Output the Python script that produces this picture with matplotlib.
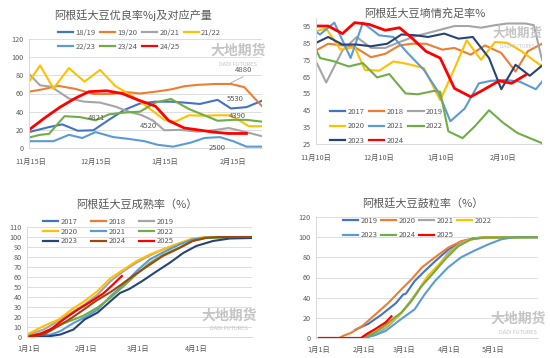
import matplotlib
matplotlib.use('Agg')
import matplotlib.pyplot as plt
from matplotlib.lines import Line2D

plt.rcParams['font.family'] = ['Noto Sans CJK SC', 'DejaVu Sans']

W, H = 550, 358
TXT = '#595959'
AXC = '#D9D9D9'

colors = {
    'blue': '#4472C4', 'orange': '#ED7D31', 'gray': '#A5A5A5', 'yellow': '#FFC000',
    'lblue': '#5B9BD5', 'green': '#70AD47', 'navy': '#264478', 'brown': '#9E480E',
    'red': '#FF0000',
}

# ---- panel 1: good/excellent rate, days after Nov 15 ----
p1_ticks = [1, 30, 61, 92]
p1_ticklabels = ['11月15日', '12月15日', '1月15日', '2月15日']
d1819 = [0, 9, 15, 22, 29, 36, 43, 50, 57, 64, 70, 77, 85, 91, 98, 105]
v1819 = [17.5, 23, 26, 19, 19.5, 31, 42, 49, 51, 51, 50, 48.5, 53, 43.5, 45, 52]
d1920 = [0, 6, 13, 21, 29, 37, 44, 50, 57, 64, 70, 76, 84, 91, 97, 105]
v1920 = [62, 64.5, 68.5, 65, 59.5, 59.5, 61.5, 60, 62, 64.5, 68, 69.5, 70.5, 70.5, 67, 46]
d2021 = [0, 5, 10, 18, 25, 32, 39, 45, 51, 56, 61, 68, 76, 83, 90, 97, 105]
v2021 = [81.5, 69, 67.5, 54.5, 51, 50, 45.5, 40, 36, 30, 19.5, 20, 18, 19.5, 22, 18, 13]
d2122 = [0, 5, 11, 18, 25, 32, 39, 46, 53, 61, 66, 72, 79, 85, 91, 99, 105]
v2122 = [73, 91, 65.5, 88, 73, 86, 68, 58, 46, 31, 29, 36, 35.5, 36, 36, 24, 24]
d2223 = [0, 6, 11, 18, 24, 30, 38, 45, 52, 58, 65, 73, 79, 86, 92, 98, 105]
v2223 = [7.5, 7.5, 7.5, 14.5, 11, 17.5, 12, 10, 7.5, 3.5, 1.5, 6, 11, 12, 7.5, 1.5, 1.5]
d2324 = [0, 5, 9, 16, 23, 30, 36, 43, 50, 57, 64, 72, 79, 85, 92, 98, 105]
v2324 = [11.5, 14.5, 15.5, 35, 34, 30.5, 37, 39, 40, 50, 54, 43, 36, 30, 31, 31, 29]
d2425 = [0, 7, 14, 21, 27, 35, 42, 49, 57, 63, 70, 76, 83, 90, 98]
v2425 = [20, 33, 45, 55, 62, 63, 60, 53, 46, 30, 22, 20, 17.5, 16, 16]
p1_notes = ['4880', '5530', '4390', '2500', '4821', '4520']
p1_note_pos = [(96.5, 86), (93, 54), (94, 35), (85, 0), (30.5, 33.5), (54, 24)]

# ---- panel 2: soil moisture adequacy, days after Nov 10 ----
p2_ticks = [0, 31, 61, 92]
p2_ticklabels = ['11月10日', '12月10日', '1月10日', '2月10日']
m2018_d = [0, 6, 13, 19, 27, 34, 41, 47, 54, 62, 68, 76, 83, 91, 98, 104, 111]
m2018_v = [80.5, 84.5, 83.5, 82.5, 76.5, 78.5, 83.5, 84.5, 84.5, 81, 82, 78, 83.5, 79, 68, 80, 84.5]
m2019_d = [0, 5, 13, 20, 27, 34, 41, 49, 57, 68, 75, 81, 88, 94, 103, 107, 111]
m2019_v = [74, 61.5, 80.5, 88.5, 82, 82, 85.5, 89, 91.5, 95, 95, 94, 95.5, 96.5, 96.5, 95.5, 75]
m2020_d = [0, 5, 12, 19, 24, 31, 38, 45, 53, 61, 67, 74, 81, 88, 94, 101, 111]
m2020_v = [92, 93.5, 81, 82.5, 69, 68.5, 74, 72.5, 70, 51, 67, 86.5, 75, 85.5, 85, 80, 71]
m2021_d = [0, 2, 9, 17, 23, 31, 38, 45, 53, 60, 66, 73, 80, 86, 93, 100, 108, 111]
m2021_v = [91.5, 90, 97, 76, 97, 89.5, 88.5, 79, 69, 56, 38.5, 46, 61, 62.5, 63, 62, 57.5, 62]
m2022_d = [0, 2, 9, 16, 23, 30, 36, 44, 50, 58, 61, 65, 72, 78, 85, 92, 99, 107, 111]
m2022_v = [81, 76, 74, 71, 73, 64.5, 66.5, 55, 54.5, 56.5, 56, 32.5, 28.5, 35.5, 45, 37.5, 31.5, 27.5, 25.5]
m2023_d = [0, 6, 13, 20, 27, 35, 42, 49, 55, 63, 70, 77, 85, 91, 98, 105, 111]
m2023_v = [85, 88.5, 84, 84, 83, 84.5, 90, 89.5, 88.5, 90.5, 87.5, 88.5, 76, 57.5, 72, 65.5, 71.5]
m2024_d = [0, 6, 13, 19, 26, 34, 41, 47, 54, 61, 68, 76, 82, 90, 96, 103]
m2024_v = [95, 95, 90.5, 97, 96, 92.5, 94, 88, 80, 76, 58, 53, 57, 62.5, 61, 66]

# ---- panel 3: maturity rate, days after Jan 1 ----
p3_ticks = [0, 31, 59, 90]
p3_ticklabels = ['1月1日', '2月1日', '3月1日', '4月1日']
r2019_d = [0, 8, 16, 23, 30, 37, 44, 51, 58, 65, 72, 81, 88, 95, 120]
r2019_v = [2.5, 7.5, 16, 24.5, 32.5, 42.5, 56, 66, 74.5, 81.5, 87.5, 93.5, 97.5, 99.5, 100]
r2020_d = [0, 8, 16, 23, 30, 37, 44, 51, 58, 65, 72, 81, 88, 95, 120]
r2020_v = [3.5, 11, 17.5, 27.5, 36, 46, 59, 67.5, 76, 82.5, 87.5, 94, 98.5, 100, 100]
r2021_d = [0, 12, 17, 24, 30, 37, 44, 51, 58, 65, 72, 81, 88, 95, 120]
r2021_v = [0, 2.5, 6, 14, 19.5, 27.5, 41, 52.5, 66, 77.5, 84.5, 92.5, 97.5, 99.5, 100]
r2022_d = [0, 8, 15, 22, 29, 37, 44, 51, 58, 65, 72, 81, 88, 95, 120]
r2022_v = [1, 4.5, 11, 16, 21, 29.5, 39.5, 51, 63, 74, 82, 89.5, 96, 99, 100]
r2023_d = [0, 10, 17, 24, 30, 37, 44, 49, 54, 61, 69, 76, 83, 90, 99, 108, 120]
r2023_v = [0, 0.5, 2.5, 7.5, 17.5, 24.5, 36, 44, 48, 56, 66, 74.5, 84, 91, 96, 98.5, 99]
r2024_d = [0, 8, 16, 23, 30, 36, 44, 49, 56, 62, 72, 81, 88, 95, 102, 120]
r2024_v = [0, 2.5, 11, 19, 28, 36, 45, 51.5, 61, 68.5, 81, 89, 96, 99, 100, 100]
r2025_d = [1, 6, 12, 19, 26, 33, 40, 45, 50]
r2025_v = [1, 3, 8, 18, 27, 35, 43.5, 52, 61]

# ---- panel 4: grain filling rate, days after Jan 1 ----
p4_ticks = [0, 31, 59, 90, 120]
p4_ticklabels = ['1月1日', '2月1日', '3月1日', '4月1日', '5月1日']
g2019_d = [25, 27, 34, 43, 53, 58, 60, 66, 73, 80, 89, 98, 107, 117, 151]
g2019_v = [8, 9.5, 14, 23, 34.5, 43, 44, 56.5, 66.5, 76, 87.5, 95.5, 99, 100, 100]
g2020_d = [0, 14, 17, 22, 30, 39, 48, 57, 64, 71, 80, 89, 98, 107, 117, 151]
g2020_v = [0, 0, 2.3, 5, 12, 23.5, 35, 48.5, 58.5, 70, 80, 89.5, 96, 99, 100, 100]
g2021_d = [30, 39, 48, 57, 64, 71, 80, 89, 98, 107, 117, 151]
g2021_v = [0, 3, 12, 25, 38.5, 52, 66.5, 84.5, 94.5, 98.5, 100, 100]
g2022_d = [30, 37, 46, 55, 62, 69, 75, 85, 94, 103, 112, 151]
g2022_v = [0, 5, 12, 22, 33.5, 48.5, 61.5, 76.5, 89.5, 97, 99.5, 100]
g2023_d = [31, 39, 46, 55, 66, 73, 80, 89, 98, 107, 117, 126, 135, 151]
g2023_v = [0, 3, 7, 17, 28.5, 43.5, 56.5, 70, 80, 86.5, 93, 98, 100, 100]
g2024_d = [30, 39, 48, 57, 64, 71, 78, 87, 96, 105, 114, 151]
g2024_v = [0, 5.5, 15.5, 25.5, 37, 52, 63, 78, 91, 98, 99.5, 100]
g2025_d = [0, 29, 33, 39, 46, 50]
g2025_v = [0, 0, 4, 9, 15.5, 21.5]

fig = plt.figure(figsize=(W / 100, H / 100), dpi=100)


def px_axes(x0, y0, x1, y1):
    return fig.add_axes([x0 / W, 1 - y1 / H, (x1 - x0) / W, (y1 - y0) / H])


def style(ax, grid=True, pad=7):
    for s in ['top', 'right']:
        ax.spines[s].set_visible(False)
    for s in ['left', 'bottom']:
        ax.spines[s].set_color(AXC)
        ax.spines[s].set_linewidth(0.7)
    ax.tick_params(length=0, labelsize=5.2, colors=TXT)
    ax.tick_params(axis='x', pad=pad)
    ax.tick_params(axis='y', pad=4)
    if grid:
        ax.grid(axis='y', color=AXC, linewidth=0.6)
        ax.set_axisbelow(True)


def title(x, y, s):
    fig.text(x / W, 1 - y / H, s, ha='center', va='center', fontsize=8, color=TXT)


def watermark(x, y, size=10):
    fig.text(x / W, 1 - y / H, '大地期货', ha='center', va='center', fontsize=size,
             color='#C4C4C4', fontweight='bold', zorder=0)
    fig.text(x / W, 1 - (y + 13) / H, 'DADI FUTURES', ha='center', va='center',
             fontsize=size * 0.4, color='#C4C4C4', zorder=0)


def legend(ax, order, x, y, ncol, labelspacing, colspacing):
    handles = [Line2D([], [], color=c, lw=1.6) for _, c in order]
    labels = [l for l, _ in order]
    ax.legend(handles, labels, loc='upper left', bbox_to_anchor=(x / W, 1 - y / H),
              bbox_transform=fig.transFigure, ncol=ncol, frameon=False, fontsize=5.5,
              labelcolor=TXT, borderpad=0, borderaxespad=0, handlelength=2.0,
              handletextpad=0.3, labelspacing=labelspacing, columnspacing=colspacing)


# panel 1
ax1 = px_axes(29, 39, 262, 148)
style(ax1)
ax1.plot(d1819, v1819, color=colors['blue'], lw=1.5)
ax1.plot(d1920, v1920, color=colors['orange'], lw=1.5)
ax1.plot(d2021, v2021, color=colors['gray'], lw=1.5)
ax1.plot(d2122, v2122, color=colors['yellow'], lw=1.5)
ax1.plot(d2223, v2223, color=colors['lblue'], lw=1.5)
ax1.plot(d2324, v2324, color=colors['green'], lw=1.5)
ax1.plot(d2425, v2425, color=colors['red'], lw=2.0)
ax1.set_xlim(0, 105)
ax1.set_ylim(0, 120)
ax1.set_yticks(range(0, 121, 20))
ax1.set_xticks(p1_ticks, p1_ticklabels)
for t, (xx, yy) in zip(p1_notes, p1_note_pos):
    ax1.text(xx, yy, t, fontsize=5.5, color=TXT, ha='center', va='center')
ax1.plot([90.7, 96.5], [71.3, 78.5], color='#A5A5A5', lw=0.6)
title(133, 15, '阿根廷大豆优良率%j及对应产量')
legend(ax1, [('18/19', colors['blue']), ('22/23', colors['lblue']),
             ('19/20', colors['orange']), ('23/24', colors['green']),
             ('20/21', colors['gray']), ('24/25', colors['red']),
             ('21/22', colors['yellow'])], 58, 29, 4, 0.75, 0.55)
watermark(238, 51)

# panel 2
ax2 = px_axes(316, 17.6, 542, 144)
style(ax2, grid=False)
ax2.plot(m2018_d, m2018_v, color=colors['orange'], lw=1.5)
ax2.plot(m2019_d, m2019_v, color=colors['gray'], lw=1.5)
ax2.plot(m2020_d, m2020_v, color=colors['yellow'], lw=1.5)
ax2.plot(m2021_d, m2021_v, color=colors['lblue'], lw=1.5)
ax2.plot(m2022_d, m2022_v, color=colors['green'], lw=1.5)
ax2.plot(m2023_d, m2023_v, color=colors['navy'], lw=1.5)
ax2.plot(m2024_d, m2024_v, color=colors['red'], lw=2.0)
ax2.set_xlim(0, 111)
ax2.set_ylim(25, 100)
ax2.set_yticks(range(25, 96, 10))
ax2.set_xticks(p2_ticks, p2_ticklabels)
title(425, 13, '阿根廷大豆墒情充足率%')
legend(ax2, [('2017', colors['blue']), ('2020', colors['yellow']), ('2023', colors['navy']),
             ('2018', colors['orange']), ('2021', colors['lblue']), ('2024', colors['red']),
             ('2019', colors['gray']), ('2022', colors['green'])], 330, 108, 3, 0.85, 0.6)
watermark(517, 33, size=9)

# panel 3
ax3 = px_axes(27, 227, 252, 337)
style(ax3, pad=6)
ax3.plot(r2019_d, r2019_v, color=colors['gray'], lw=1.5)
ax3.plot(r2020_d, r2020_v, color=colors['yellow'], lw=1.5)
ax3.plot(r2021_d, r2021_v, color=colors['lblue'], lw=1.5)
ax3.plot(r2022_d, r2022_v, color=colors['green'], lw=1.5)
ax3.plot(r2023_d, r2023_v, color=colors['navy'], lw=1.5)
ax3.plot(r2024_d, r2024_v, color=colors['brown'], lw=1.5)
ax3.plot(r2025_d, r2025_v, color=colors['red'], lw=1.6)
ax3.set_xlim(-1, 120)
ax3.set_ylim(0, 110)
ax3.set_yticks(range(0, 111, 10))
ax3.set_xticks(p3_ticks, p3_ticklabels)
title(137, 204, '阿根廷大豆成熟率（%）')
legend(ax3, [('2017', colors['blue']), ('2020', colors['yellow']), ('2023', colors['navy']),
             ('2018', colors['orange']), ('2021', colors['lblue']), ('2024', colors['brown']),
             ('2019', colors['gray']), ('2022', colors['green']), ('2025', colors['red'])],
       43, 218, 3, 0.22, 1.75)
watermark(229, 316)

# panel 4
ax4 = px_axes(316, 217, 538, 338)
style(ax4, pad=6)
ax4.plot(g2019_d, g2019_v, color=colors['blue'], lw=1.5)
ax4.plot(g2020_d, g2020_v, color=colors['orange'], lw=1.5)
ax4.plot(g2021_d, g2021_v, color=colors['gray'], lw=1.5)
ax4.plot(g2022_d, g2022_v, color=colors['yellow'], lw=1.5)
ax4.plot(g2023_d, g2023_v, color=colors['lblue'], lw=1.5)
ax4.plot(g2024_d, g2024_v, color=colors['green'], lw=1.5)
ax4.plot(g2025_d, g2025_v, color=colors['red'], lw=1.6)
ax4.set_xlim(-2, 151)
ax4.set_ylim(0, 120)
ax4.set_yticks(range(0, 121, 20))
ax4.set_xticks(p4_ticks, p4_ticklabels)
title(423, 203, '阿根廷大豆鼓粒率（%）')
legend(ax4, [('2019', colors['blue']), ('2023', colors['lblue']),
             ('2020', colors['orange']), ('2024', colors['green']),
             ('2021', colors['gray']), ('2025', colors['red']),
             ('2022', colors['yellow'])], 343, 217, 4, 0.85, 0.45)
watermark(518, 319)

fig.savefig('out.png', dpi=100)
